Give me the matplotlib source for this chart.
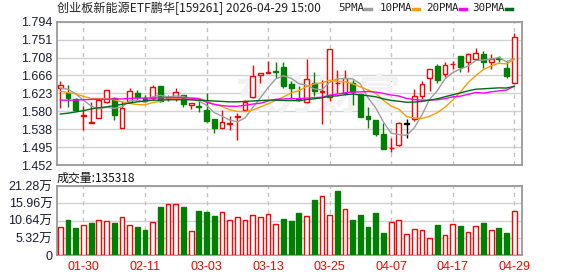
#!/usr/bin/env python3
"""
Daily K-line chart of 创业板新能源ETF鹏华 (159261) with moving averages and volume.
"""
import numpy as np
import pandas as pd
import matplotlib
matplotlib.use("Agg")
import matplotlib.pyplot as plt

plt.rcParams['font.family'] = ['Noto Sans CJK SC', 'DejaVu Sans']

# Trading days shown on the chart (2026)
dates = (
    ['01-27', '01-28', '01-29', '01-30']
    + ['02-02', '02-03', '02-04', '02-05', '02-06', '02-09', '02-10', '02-11', '02-12', '02-13']
    + ['02-24', '02-25', '02-26', '02-27']
    + ['03-02', '03-03', '03-04', '03-05', '03-06', '03-09', '03-10', '03-11', '03-12', '03-13',
       '03-16', '03-17', '03-18', '03-19', '03-20', '03-23', '03-24', '03-25', '03-26', '03-27',
       '03-30', '03-31']
    + ['04-01', '04-02', '04-03', '04-07', '04-08', '04-09', '04-10', '04-13', '04-14', '04-15',
       '04-16', '04-17', '04-20', '04-21', '04-22', '04-23', '04-24', '04-27', '04-28', '04-29']
)

open_ = [1.636, 1.625, 1.610, 1.570, 1.553, 1.564, 1.603, 1.611, 1.541, 1.603,
         1.625, 1.611, 1.611, 1.641, 1.611, 1.615, 1.619, 1.596, 1.592, 1.584,
         1.561, 1.541, 1.551, 1.568, 1.583, 1.614, 1.667, 1.672, 1.676, 1.685,
         1.645, 1.609, 1.603, 1.648, 1.626, 1.614, 1.647, 1.624, 1.648, 1.622,
         1.570, 1.559, 1.527, 1.492, 1.499, 1.551, 1.561, 1.618, 1.659, 1.689,
         1.669, 1.692, 1.713, 1.697, 1.705, 1.717, 1.697, 1.708, 1.683, 1.648]
close = [1.643, 1.611, 1.584, 1.572, 1.555, 1.608, 1.631, 1.571, 1.589, 1.629,
         1.615, 1.604, 1.638, 1.606, 1.610, 1.627, 1.598, 1.600, 1.591, 1.558,
         1.541, 1.555, 1.553, 1.570, 1.603, 1.665, 1.671, 1.675, 1.674, 1.640,
         1.636, 1.607, 1.657, 1.629, 1.628, 1.728, 1.648, 1.659, 1.626, 1.568,
         1.562, 1.527, 1.491, 1.493, 1.553, 1.551, 1.616, 1.645, 1.681, 1.654,
         1.691, 1.693, 1.687, 1.717, 1.719, 1.697, 1.705, 1.706, 1.665, 1.758]
high = [1.653, 1.644, 1.613, 1.592, 1.603, 1.608, 1.631, 1.614, 1.606, 1.637,
        1.632, 1.620, 1.644, 1.641, 1.620, 1.636, 1.619, 1.600, 1.612, 1.624,
        1.563, 1.583, 1.569, 1.576, 1.608, 1.690, 1.671, 1.701, 1.698, 1.697,
        1.652, 1.640, 1.705, 1.674, 1.655, 1.728, 1.679, 1.679, 1.655, 1.622,
        1.591, 1.559, 1.553, 1.517, 1.556, 1.562, 1.634, 1.653, 1.681, 1.693,
        1.699, 1.701, 1.713, 1.720, 1.731, 1.724, 1.716, 1.713, 1.703, 1.768]
low = [1.588, 1.591, 1.580, 1.537, 1.552, 1.564, 1.600, 1.559, 1.541, 1.600,
       1.608, 1.603, 1.608, 1.603, 1.604, 1.604, 1.591, 1.586, 1.578, 1.556,
       1.529, 1.541, 1.537, 1.511, 1.583, 1.612, 1.648, 1.671, 1.660, 1.636,
       1.610, 1.604, 1.600, 1.618, 1.551, 1.606, 1.624, 1.620, 1.596, 1.568,
       1.541, 1.521, 1.491, 1.484, 1.497, 1.517, 1.557, 1.610, 1.628, 1.648,
       1.662, 1.682, 1.675, 1.674, 1.705, 1.683, 1.681, 1.699, 1.660, 1.645]

# volume in 万 shares, and the bar colour shown for each day (R = up, G = down)
volume = [8.6, 10.8, 8.4, 9.3, 9.9, 10.8, 10.5, 9.9, 11.9, 9.3,
          8.6, 7.8, 10.2, 14.7, 15.7, 15.7, 14.7, 7.4, 13.5, 13.3,
          12.1, 13.2, 10.8, 11.7, 10.8, 12.3, 11.7, 12.6, 9.6, 11.1,
          10.6, 12.9, 12.2, 16.9, 18.3, 12.5, 19.6, 14.3, 10.8, 12.3,
          8.6, 12.9, 6.8, 10.2, 10.8, 6.4, 8.0, 7.7, 5.2, 9.3,
          6.1, 9.6, 8.9, 7.1, 8.9, 9.9, 7.7, 8.3, 6.8, 13.5318]
vol_side = "RGGRGRRGRR" "GGRGRRGRGG" "GRRRRRRRRG" "GGRGRRGRGG" "GGGRRRRRRG" "RRGRRGRGGR"

# moving-average values before a full window exists
ma5_head = [1.636, 1.633, 1.622, 1.607]
ma10_head = [1.628, 1.625, 1.622, 1.616, 1.611, 1.611, 1.611, 1.608, 1.603]
ma20_head = [1.607, 1.607, 1.607, 1.608, 1.609, 1.609, 1.609, 1.610, 1.610, 1.611,
             1.612, 1.612, 1.612, 1.613, 1.613, 1.613, 1.613, 1.612, 1.610]
ma30_head = [1.574, 1.576, 1.579, 1.582, 1.586, 1.589, 1.591, 1.594, 1.597, 1.600,
             1.603, 1.605, 1.607, 1.607, 1.608, 1.608, 1.608, 1.608, 1.607, 1.606,
             1.605, 1.604, 1.603, 1.603, 1.604, 1.605, 1.606, 1.607, 1.607]

price_ticks = [1.452, 1.495, 1.538, 1.580, 1.623, 1.666, 1.708, 1.751, 1.794]
vol_ticks = [0, 5.32, 10.64, 15.96, 21.28]
vol_tick_labels = ['0', '5.32万', '10.64万', '15.96万', '21.28万']

title = '创业板新能源ETF鹏华[159261] 2026-04-29 15:00'
vol_title = '成交量:135318'

RED = '#ff0000'
GREEN = '#008000'
GRID = '#d2d2d2'
FRAME = '#9a9a9a'
LABEL = '#1c1c34'
MA_STYLES = [('5PMA', 5, ma5_head, '#9e9e9e'),
             ('10PMA', 10, ma10_head, '#f5a000'),
             ('20PMA', 20, ma20_head, '#ff00ff'),
             ('30PMA', 30, ma30_head, '#006b1f')]


def moving_average(n, head):
    ma = pd.Series(close).rolling(n).mean().to_numpy()
    ma[:n - 1] = head
    return ma


def style_axes(ax, ticks, labels, ymax, ymin, tick_idx):
    ax.set_xlim(-0.5, 60.05)
    ax.set_ylim(ymin, ymax)
    ax.set_yticks(ticks)
    ax.set_yticklabels(labels, family=['Liberation Sans', 'Noto Sans CJK SC'],
                       fontsize=9, color=LABEL)
    ax.tick_params(axis='both', length=0, pad=3)
    for t in ticks:
        ax.axhline(t, color=GRID, lw=1, zorder=0)
    for i in tick_idx:
        ax.axvline(i, color='#c4c4c4', lw=1, ls=(0, (3, 3)), zorder=0)
    for s in ax.spines.values():
        s.set_color(FRAME)
        s.set_linewidth(1.3)


W, H = 578, 276
fig = plt.figure(figsize=(W / 100, H / 100), dpi=100)
fig.patch.set_facecolor('white')


def px_axes(x0, y0, x1, y1):
    return fig.add_axes([x0 / W, 1 - y1 / H, (x1 - x0) / W, (y1 - y0) / H])


ax = px_axes(56.5, 21.7, 522.3, 165.2)
axv = px_axes(56.5, 186, 522.3, 255.3)

x = np.arange(len(close))
o = np.array(open_)
c = np.array(close)
tick_idx = [i for i in range(3, len(dates), 8)]

# ---- price panel ----
style_axes(ax, price_ticks, [f'{p:.3f}' for p in price_ticks], 1.794, 1.452, tick_idx)
ax.set_xticks([])

ax.text(0.56, 0.48, '东方财富', transform=ax.transAxes, ha='center', va='center',
        fontsize=30, color='#f2f2f2', zorder=0.5, fontweight='bold')

colors = np.where(c > o, RED, np.where(c < o, GREEN, '#000000'))
ax.vlines(x, low, high, colors=colors, lw=1, zorder=2)
body_lo = np.minimum(o, c)
body_h = np.maximum(np.abs(c - o), 0.0006)
for i in x:
    face = 'white' if colors[i] == RED else colors[i]
    ax.bar(i, body_h[i], bottom=body_lo[i], width=0.62, facecolor=face,
           edgecolor=colors[i], linewidth=1, zorder=3)

for name, n, head, col in MA_STYLES:
    ax.plot(x, moving_average(n, head), color=col, lw=1, zorder=4)

# ---- volume panel ----
style_axes(axv, vol_ticks, vol_tick_labels, 21.28, 0, tick_idx)
axv.set_xticks(tick_idx)
axv.set_xticklabels([dates[i] for i in tick_idx], family='Liberation Sans',
                    fontsize=9, color=RED)
axv.tick_params(axis='x', pad=4)
for i in x:
    up = vol_side[i] == 'R'
    axv.bar(i, volume[i], width=0.62, facecolor='white' if up else GREEN,
            edgecolor=RED if up else GREEN, linewidth=1, zorder=3)

# ---- texts ----
fig.text(57 / W, 1 - 8 / H, title, fontsize=8.7, color='#222222', va='center', ha='left')
fig.text(57 / W, 1 - 178 / H, vol_title, fontsize=8.6, color='#111111', va='center', ha='left')

# legend: label text followed by a short coloured dash
legend_x = [(338, 365), (380, 413), (426, 460), (472, 506)]
for (tx, lx), (name, n, head, col) in zip(legend_x, MA_STYLES):
    fig.text(tx / W, 1 - 8 / H, name, fontsize=7.8, color='#222222', va='center', ha='left',
             family='DejaVu Sans Mono')
    fig.add_artist(plt.Line2D([lx / W, (lx + 6) / W], [1 - 8.5 / H, 1 - 8.5 / H],
                              color=col, lw=2.5))

fig.savefig('out.png', dpi=100, facecolor='white')
